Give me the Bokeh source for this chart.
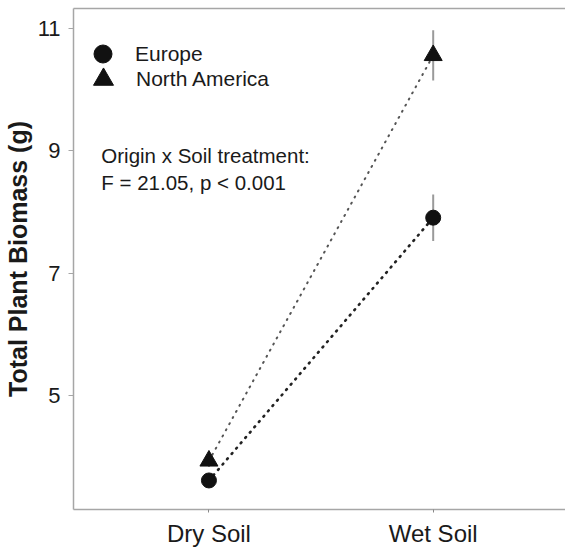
from bokeh.plotting import figure
from bokeh.models import (Range1d, FixedTicker, Legend, LegendItem, Label,
                          ColumnDataSource, LinearAxis)
from bokeh.embed import file_html
from bokeh.resources import INLINE

# ---- data ----
soil = ["Dry Soil", "Wet Soil"]
origins = ["Europe", "North America"]
europe_mean = [3.62, 7.91]
europe_err = [0.10, 0.38]
na_mean = [3.94, 10.56]
na_err = [0.10, 0.41]
y_ticks = [5, 7, 9, 11]
annotation = ["Origin x Soil treatment:", "F = 21.05, p < 0.001"]

xpos = list(range(1, len(soil) + 1))

FONT = "Liberation Sans"
AX = "#a6a6a6"

p = figure(width=565, height=549, output_backend="svg", toolbar_location=None,
           x_range=Range1d(0.396, 2.59), y_range=Range1d(3.146, 11.325),
           min_border_top=8, min_border_right=0, min_border_left=72,
           min_border_bottom=38)
p.background_fill_color = "white"
p.border_fill_color = "white"
p.outline_line_color = None
p.xgrid.visible = False
p.ygrid.visible = False

# top border line only (no right border in the original)
top = LinearAxis(ticker=FixedTicker(ticks=[]), axis_line_color=AX,
                 axis_line_width=1.5, major_tick_line_color=None,
                 minor_tick_line_color=None, major_label_standoff=0,
                 major_tick_out=0, major_tick_in=0)
p.add_layout(top, "above")

# x axis
xa = p.below[0]
xa.ticker = FixedTicker(ticks=xpos)
xa.major_label_overrides = {x: s for x, s in zip(xpos, soil)}
xa.minor_tick_line_color = None
xa.major_tick_out = 3
xa.major_tick_in = 0
xa.major_tick_line_color = "#888888"
xa.axis_line_color = AX
xa.axis_line_width = 1.5
xa.major_label_text_font = FONT
xa.major_label_text_font_size = "24px"
xa.major_label_text_color = "#1a1a1a"
xa.major_label_standoff = 7

# y axis
ya = p.left[0]
ya.ticker = FixedTicker(ticks=y_ticks)
ya.minor_tick_line_color = None
ya.major_tick_out = 5
ya.major_tick_in = 0
ya.major_tick_line_color = AX
ya.axis_line_color = AX
ya.axis_line_width = 1.5
ya.major_label_text_font = FONT
ya.major_label_text_font_size = "22px"
ya.major_label_text_color = "#1a1a1a"
ya.major_label_standoff = 8
ya.axis_label = "Total Plant Biomass (g)"
ya.axis_label_text_font = FONT
ya.axis_label_text_font_size = "25px"
ya.axis_label_text_font_style = "bold"
ya.axis_label_text_color = "#1a1a1a"
ya.axis_label_standoff = 3

# sources
eu = ColumnDataSource(dict(x=xpos, y=europe_mean,
                           lo=[m - e for m, e in zip(europe_mean, europe_err)],
                           hi=[m + e for m, e in zip(europe_mean, europe_err)]))
na = ColumnDataSource(dict(x=xpos, y=na_mean,
                           lo=[m - e for m, e in zip(na_mean, na_err)],
                           hi=[m + e for m, e in zip(na_mean, na_err)]))

# connecting dotted lines
p.line("x", "y", source=na, line_color="#555555", line_width=2.0,
       line_dash="1 6", line_cap="round")
p.line("x", "y", source=eu, line_color="#222222", line_width=2.6,
       line_dash="1 6", line_cap="round")

# error bars
p.segment(x0="x", y0="lo", x1="x", y1="hi", source=na, line_color="#9a9a9a", line_width=2)
p.segment(x0="x", y0="lo", x1="x", y1="hi", source=eu, line_color="#9a9a9a", line_width=2)

# markers
r_eu = p.scatter("x", "y", source=eu, marker="circle", size=15,
                 fill_color="#111111", line_color="#111111")
r_na = p.scatter("x", "y", source=na, marker="triangle", size=18,
                 fill_color="#111111", line_color="#111111")

# legend markers (separate hidden renderers so that legend glyphs can be large)
r_eu_leg = p.scatter("x", "y", source=eu, marker="circle", size=18,
                     fill_color="#111111", line_color="#111111", visible=False)
r_na_leg = p.scatter("x", "y", source=na, marker="triangle", size=20,
                     fill_color="#111111", line_color="#111111", visible=False)

def make_legend(label, rend, glyph, standoff, loc):
    return Legend(items=[LegendItem(label=label, renderers=[rend])],
                  location=loc, glyph_width=glyph, glyph_height=glyph,
                  label_standoff=standoff, label_text_font=FONT,
                  label_text_font_size="21px", label_text_color="#1a1a1a",
                  padding=0, margin=0, spacing=0,
                  background_fill_alpha=0, border_line_alpha=0)

p.add_layout(make_legend(origins[0], r_eu_leg, 45, 10, (7, 433)))
p.add_layout(make_legend(origins[1], r_na_leg, 50, 8, (5, 405)))

# annotation text
for txt, yv in zip(annotation, [8.93, 8.48]):
    p.add_layout(Label(x=0.52, y=yv, text=txt, text_font=FONT,
                       text_font_size="20.5px", text_color="#1a1a1a",
                       text_baseline="middle"))

open("out.html", "w").write(file_html(p, INLINE))
